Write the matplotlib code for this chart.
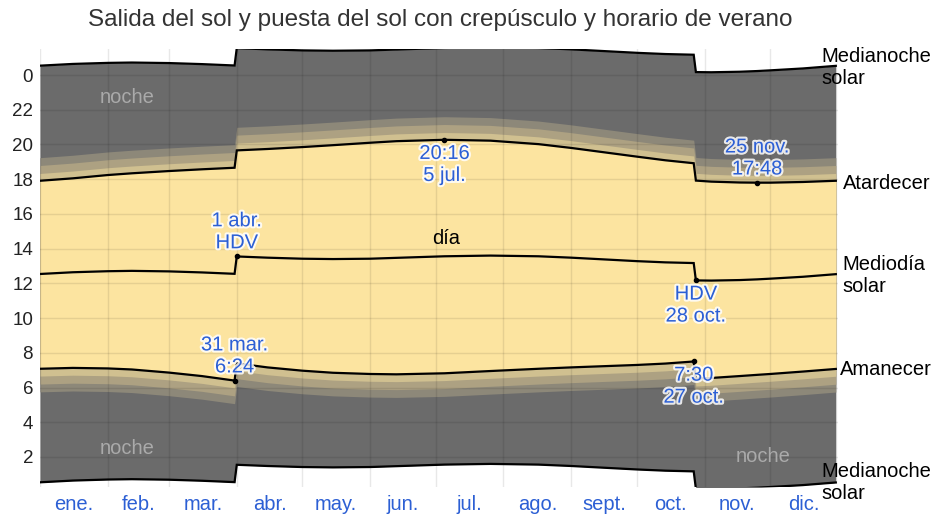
import numpy as np
import matplotlib.pyplot as plt
import matplotlib.patheffects as pe

plt.rcParams['font.family'] = ['Liberation Sans', 'DejaVu Sans']

# day of year (0 = 1 Jan) for the sampled points
days = [0, 15, 31, 42, 59, 74, 89, 90, 104, 120, 134, 151, 163, 185, 206, 228,
        243, 258, 273, 286, 299, 300, 307, 320, 328, 334, 349, 364]

# clock times in hours (with daylight saving time)
sunrise = [7.08, 7.13, 7.10, 7.04, 6.86, 6.66, 6.40, 7.39, 7.16, 6.97, 6.85, 6.78,
           6.76, 6.82, 6.95, 7.08, 7.16, 7.23, 7.30, 7.38, 7.50, 6.51, 6.55, 6.66,
           6.73, 6.78, 6.92, 7.07]
solar_noon = [12.54, 12.64, 12.70, 12.72, 12.69, 12.63, 12.55, 13.55, 13.48, 13.42,
              13.40, 13.42, 13.47, 13.56, 13.60, 13.56, 13.48, 13.38, 13.28, 13.21,
              13.17, 12.17, 12.16, 12.19, 12.23, 12.27, 12.38, 12.53]
sunset = [17.91, 18.05, 18.24, 18.34, 18.47, 18.57, 18.66, 19.66, 19.74, 19.85, 19.96,
          20.10, 20.19, 20.27, 20.22, 20.02, 19.80, 19.55, 19.30, 19.09, 18.92, 17.92,
          17.86, 17.81, 17.80, 17.80, 17.84, 17.91]

# twilight length after sunset / before sunrise: civil, nautical, astronomical (h)
twilight = [0.42, 0.88, 1.33]

month_starts = [0, 31, 59, 90, 120, 151, 181, 212, 243, 273, 304, 334, 365]
month_labels = ['ene.', 'feb.', 'mar.', 'abr.', 'may.', 'jun.', 'jul.', 'ago.',
                'sept.', 'oct.', 'nov.', 'dic.']
hour_ticks = [2, 4, 6, 8, 10, 12, 14, 16, 18, 20, 22, 24]
hour_labels = ['2', '4', '6', '8', '10', '12', '14', '16', '18', '20', '22', '0']

d = np.array(days)
rise = np.array(sunrise)
noon = np.array(solar_noon)
sset = np.array(sunset)
mid_top = noon + 12
mid_bot = noon - 12

day_col = '#fce4a0'
night_col = '#6b6b6b'
band_cols = ['#d0c090', '#ada182', '#8d8879']  # civil, nautical, astronomical
blue = '#2c5fd4'
fs = 14.5

fig = plt.figure(figsize=(9.33, 5.14), dpi=100)
ax = fig.add_axes([40 / 933, 1 - 487 / 514, (838 - 40) / 933, (487 - 49) / 514])

ax.fill_between(d, mid_bot, mid_top, color=night_col, lw=0, zorder=1)
for t, c in zip(reversed(twilight), reversed(band_cols)):
    ax.fill_between(d, rise - t, sset + t, color=c, lw=0, zorder=2)
ax.fill_between(d, rise, sset, color=day_col, lw=0, zorder=3)

# grid over the fills
for m in month_starts:
    ax.axvline(m, color='black', alpha=0.09, lw=1, zorder=4)
for h in hour_ticks:
    ax.axhline(h, color='black', alpha=0.09, lw=1, zorder=4)

for y in [mid_top, sset, noon, rise, mid_bot]:
    ax.plot(d, y, color='black', lw=1.6, zorder=5, solid_joinstyle='miter')

ax.set_xlim(0, 365)
ax.set_ylim(0.27, 25.5)
mids = [(a + b) / 2 for a, b in zip(month_starts[:-1], month_starts[1:])]
ax.set_xticks(mids)
ax.set_xticklabels(month_labels, color=blue, fontsize=fs)
ax.set_yticks(hour_ticks)
ax.set_yticklabels(hour_labels, color='#222222', fontsize=13.5)
ax.tick_params(length=0, pad=5)
ax.tick_params(axis='x', pad=6)
for s in ax.spines.values():
    s.set_visible(False)

fig.text(0.4716, 0.961, 'Salida del sol y puesta del sol con crepúsculo y horario de verano',
         ha='center', va='center', fontsize=17.5, color='#333333')

# region labels
ax.text(39.8, 22.73, 'noche', color='#aaaaaa', fontsize=fs, ha='center', va='center', zorder=6)
ax.text(39.8, 2.51, 'noche', color='#aaaaaa', fontsize=fs, ha='center', va='center', zorder=6)
ax.text(330.7, 2.05, 'noche', color='#aaaaaa', fontsize=fs, ha='center', va='center', zorder=6)
ax.text(185.7, 14.6, 'día', color='black', fontsize=fs, ha='center', va='center', zorder=6)

# right side labels
right = [(mid_top[-1], 'Medianoche\nsolar', -12, -0.1),
         (sset[-1], 'Atardecer', 3.5, -0.15),
         (noon[-1], 'Mediodía\nsolar', 3.5, -0.1),
         (rise[-1], 'Amanecer', 1.5, -0.05),
         (mid_bot[-1], 'Medianoche\nsolar', -12, 0.0)]
for yv, txt, dx, dy in right:
    ax.annotate(txt, xy=(365, yv + dy), xytext=(dx, 0), textcoords='offset points',
                ha='left', va='center', fontsize=fs, color='black',
                linespacing=1.2, annotation_clip=False, zorder=7)

# highlighted points
halo = [pe.withStroke(linewidth=3, foreground='white', alpha=0.85)]
notes = [(185, 20.27, '20:16\n5 jul.', -3),
         (328, 17.80, '25 nov.\n17:48', 3),
         (90, 13.55, '1 abr.\nHDV', 3),
         (300, 12.17, 'HDV\n28 oct.', -3),
         (89, 6.40, '31 mar.\n6:24', 3),
         (299, 7.50, '7:30\n27 oct.', -3)]
for x, y, txt, off in notes:
    ax.plot([x], [y], 'o', color='black', ms=3, zorder=6)
    ax.annotate(txt, xy=(x, y), xytext=(0, off), textcoords='offset points',
                ha='center', va='bottom' if off > 0 else 'top', fontsize=fs,
                color=blue, linespacing=1.2, path_effects=halo, zorder=8)

fig.savefig('out.png', dpi=100)
